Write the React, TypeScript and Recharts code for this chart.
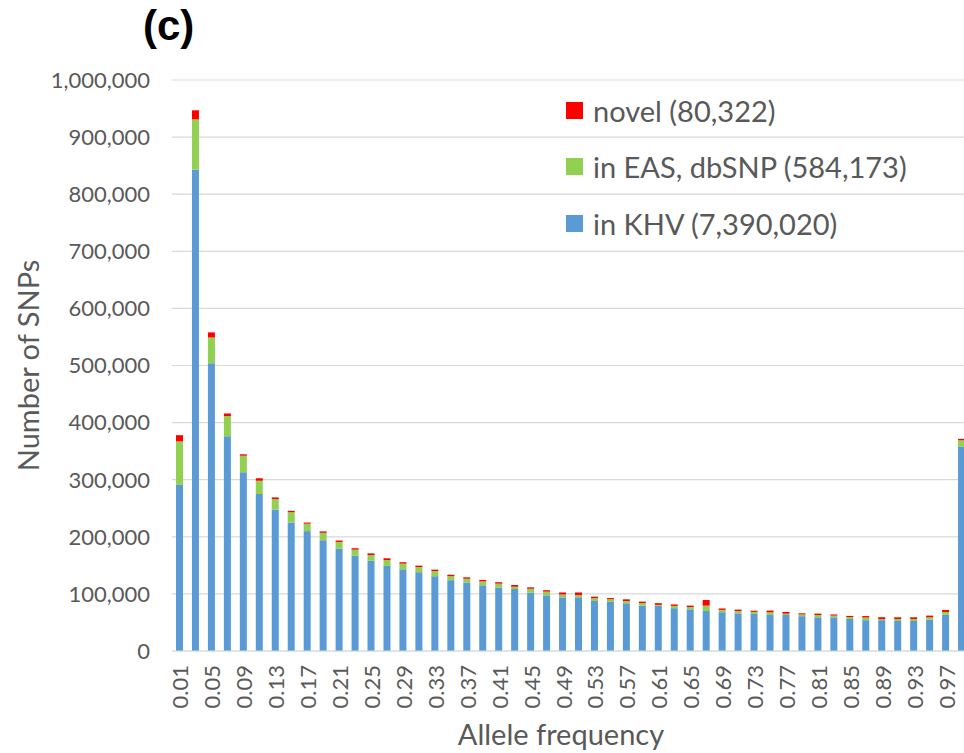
import { BarChart, Bar, XAxis, YAxis, CartesianGrid, Legend } from 'recharts';

// allele-frequency bins (one bar each, every other one labelled)
const categories = [
  '0.01', '0.03', '0.05', '0.07', '0.09', '0.11', '0.13', '0.15', '0.17', '0.19',
  '0.21', '0.23', '0.25', '0.27', '0.29', '0.31', '0.33', '0.35', '0.37', '0.39',
  '0.41', '0.43', '0.45', '0.47', '0.49', '0.51', '0.53', '0.55', '0.57', '0.59',
  '0.61', '0.63', '0.65', '0.67', '0.69', '0.71', '0.73', '0.75', '0.77', '0.79',
  '0.81', '0.83', '0.85', '0.87', '0.89', '0.91', '0.93', '0.95', '0.97', '0.99',
];

// counts in thousands
const inKhv = [
  291, 843, 504, 376, 313, 275, 248, 225, 210, 194,
  179, 167, 158, 149, 143, 138, 131, 124, 120, 115,
  111, 108.6, 102, 97.5, 94, 94, 87.6, 86, 83.5, 79.4,
  79, 75, 73, 70, 68, 66, 65, 63, 63, 61,
  59, 59, 56, 54, 54, 52.5, 52.5, 55, 63.6, 358,
];
const inEasDbsnp = [
  76, 88, 45, 35.5, 29, 23, 18, 18, 13, 13,
  12, 10.5, 10, 10.4, 10, 9, 9, 7, 6.5, 7,
  7, 4, 7, 6.5, 5, 4, 5, 4.7, 4, 4.6,
  1.8, 4, 4, 9.4, 4, 4, 3.5, 4.8, 2.3, 3,
  4, 3, 3.5, 4.7, 1.7, 3.5, 3.5, 4, 4.7, 11,
];
const novel = [
  11, 16, 9, 4.5, 2.5, 4.5, 3, 2.5, 2, 2.5,
  2.5, 2.5, 3, 3, 2.5, 2.5, 2.5, 2.5, 2.5, 2.5,
  2.5, 3, 2.5, 2.5, 3.5, 4.5, 2.5, 2, 3, 2.5,
  3, 2.5, 2.5, 10, 2.5, 2.5, 2, 3, 3, 2,
  2.5, 2, 2, 2.5, 3.5, 3, 3, 3, 3.5, 2.5,
];

const yTicks = [0, 100000, 200000, 300000, 400000, 500000, 600000, 700000, 800000, 900000, 1000000];

// legend reads top-down: novel, EAS/dbSNP, KHV
const legendOrder = ['novel', 'eas', 'khv'];

const data = categories.map((af, i) => ({
  af,
  khv: inKhv[i] * 1000,
  eas: inEasDbsnp[i] * 1000,
  novel: novel[i] * 1000,
}));

const FONT = 'Lato, "Liberation Sans", sans-serif';
const GREY = '#595959';

function XTick({ x, y, payload }: any) {
  return (
    <text
      transform={`translate(${x},${y}) rotate(-90)`}
      textAnchor="end"
      dominantBaseline="central"
      fill={GREY}
      fontSize={22}
      fontFamily={FONT}
    >
      {payload.value}
    </text>
  );
}

function LegendBox({ payload }: any) {
  const items = [...(payload || [])].sort(
    (a: any, b: any) => legendOrder.indexOf(a.dataKey) - legendOrder.indexOf(b.dataKey)
  );
  return (
    <div style={{ fontFamily: FONT }}>
      {items.map((p: any) => (
        <div key={p.value} style={{ display: 'flex', alignItems: 'center', height: 56.5 }}>
          <span style={{ width: 17, height: 17, background: p.color, marginRight: 10 }} />
          <span style={{ fontSize: 29, color: GREY }}>{p.value}</span>
        </div>
      ))}
    </div>
  );
}

export default function App() {
  return (
    <div style={{ position: 'fixed', left: 0, top: 0, width: 964, height: 753, overflow: 'hidden', background: '#fff' }}>
      <div
        style={{
          position: 'absolute',
          left: 143,
          top: 2,
          fontFamily: '"Liberation Sans", Arial, sans-serif',
          fontWeight: 'bold',
          fontSize: 42,
          color: '#000',
        }}
      >
        (c)
      </div>
      <BarChart
        width={1010}
        height={753}
        data={data}
        margin={{ top: 80, right: 40, bottom: 0, left: 0 }}
        barSize={7}
      >
        <CartesianGrid vertical={false} stroke="#D9D9D9" strokeWidth={1.2} />
        <XAxis
          dataKey="af"
          interval={1}
          height={102}
          tick={<XTick />}
          tickLine={false}
          tickSize={6}
          tickMargin={8}
          axisLine={{ stroke: '#D9D9D9', strokeWidth: 1.2 }}
          label={({ viewBox }: any) => (
            <text
              x={viewBox.x + viewBox.width / 2 - 10}
              y={733}
              textAnchor="middle"
              dominantBaseline="central"
              fill={GREY}
              fontSize={29}
              fontFamily={FONT}
            >
              Allele frequency
            </text>
          )}
        />
        <YAxis
          width={172}
          domain={[0, 1000000]}
          ticks={yTicks}
          tickFormatter={(v: number) => v.toLocaleString('en-US')}
          tick={{ fill: GREY, fontSize: 22, fontFamily: FONT }}
          tickLine={false}
          tickMargin={16}
          axisLine={false}
          label={({ viewBox }: any) => {
            const cy = viewBox.y + viewBox.height / 2;
            return (
              <text
                x={27}
                y={cy}
                transform={`rotate(-90 27 ${cy})`}
                textAnchor="middle"
                dominantBaseline="central"
                fill={GREY}
                fontSize={29}
                fontFamily={FONT}
              >
                Number of SNPs
              </text>
            );
          }}
        />
        <Legend
          layout="vertical"
          align="center"
          verticalAlign="middle"
          content={<LegendBox />}
          wrapperStyle={{ position: 'absolute', left: 566, top: 82, width: 390 }}
        />
        <Bar dataKey="khv" name="in KHV (7,390,020)" stackId="a" fill="#5B9BD5" isAnimationActive={false} />
        <Bar dataKey="eas" name="in EAS, dbSNP (584,173)" stackId="a" fill="#92D050" isAnimationActive={false} />
        <Bar dataKey="novel" name="novel (80,322)" stackId="a" fill="#FF0000" isAnimationActive={false} />
      </BarChart>
    </div>
  );
}
